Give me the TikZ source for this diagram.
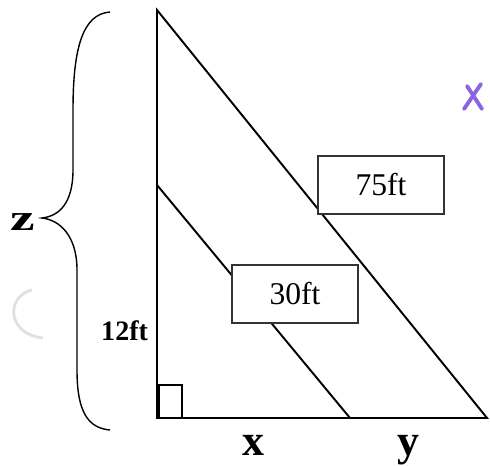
\documentclass[tikz,border=0pt]{standalone}
\usepackage{graphicx}
\usepackage{fontspec}
\setmainfont{Liberation Serif}
\usetikzlibrary{positioning}

\definecolor{markviolet}{RGB}{140,100,225}

\begin{document}
\begin{tikzpicture}[x=0.02cm,y=-0.02cm,line width=1.1pt,
 lenbox/.style={draw=black!80,fill=white,line width=0.85pt,minimum width=2.52cm,minimum height=1.16cm,
   inner sep=0pt,font=\fontsize{18}{20}\selectfont},
 varlab/.style={anchor=base,inner sep=0pt,font=\bfseries\fontsize{25}{27}\selectfont}]
\useasboundingbox (0,0) rectangle (490,466);
% triangle
\coordinate (top) at (157,10);
\coordinate (corner) at (157,418);
\coordinate (far) at (487,418);
\coordinate (mid) at (157,185);
\coordinate (foot) at (350,418);
\draw (top) -- (corner) -- (far) -- cycle;
\draw (mid) -- (foot);
\draw[line width=0.8pt] (corner) ++(2,0) rectangle ++(23,-33);
% lengths
\node[lenbox] (hyp) at (381,185) {75ft};
\node[lenbox] (inner) at (295,294) {30ft};
\node[anchor=base east,inner sep=0pt,font=\bfseries\fontsize{16}{18}\selectfont] (leg) at (149,340) {12ft};
\node[varlab] (xlab) at (253,455) {x};
\node[varlab] (ylab) at (408,455) {y};
% brace and z
\draw[line width=0.8pt] (110,12) .. controls (82,14) and (73,50) .. (73,110) -- (73,170)
  .. controls (73,202) and (60,216) .. (42,218)
  .. controls (60,220) and (77,236) .. (77,270) -- (77,370)
  .. controls (77,412) and (88,428) .. (110,430);
\node[anchor=base,inner sep=0pt,font=\bfseries\fontsize{21}{23}\selectfont] (zlab) at (23,230) {\scalebox{1.5}[1]{z}};
% marks
\draw[markviolet,line width=2.2pt,line cap=round] (467,86) -- (482,109) (481,84) -- (464,109);
\draw[black!12,line width=1.6pt] (32,290) .. controls (6,296) and (6,334) .. (43,338);
\end{tikzpicture}
\end{document}
